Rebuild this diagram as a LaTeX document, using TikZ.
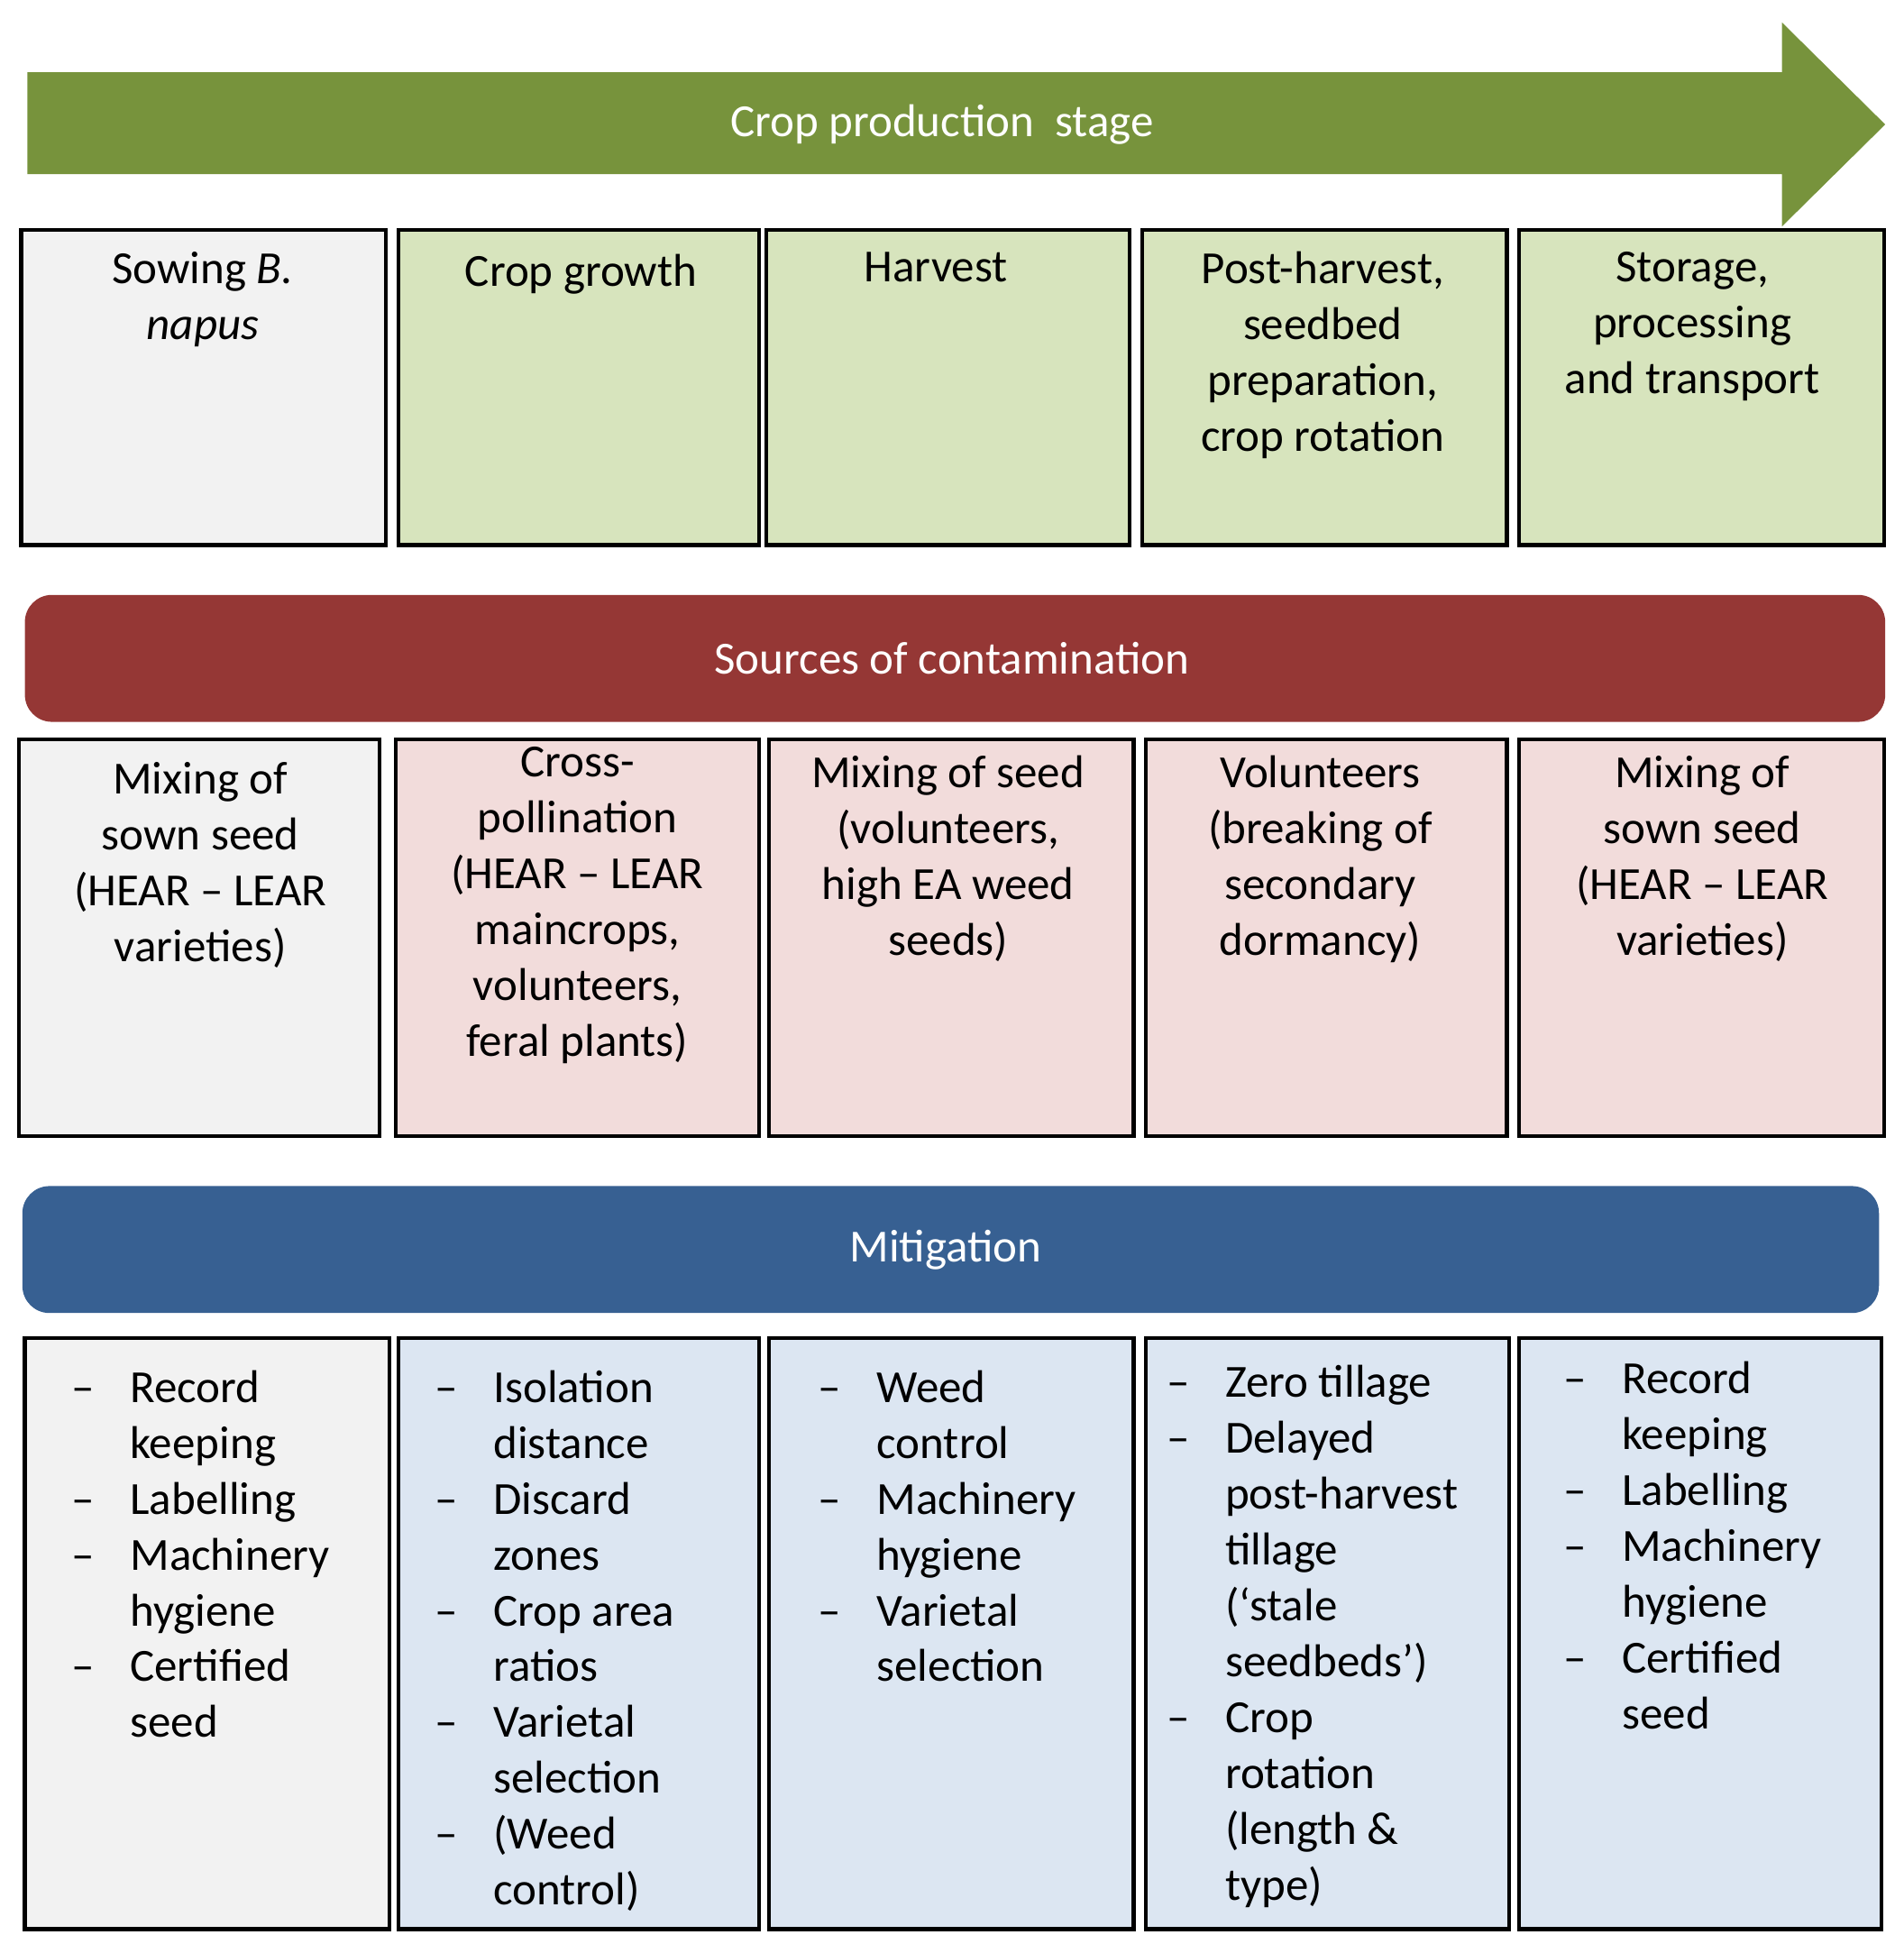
\documentclass[tikz,border=0pt]{standalone}
\usepackage{fontspec}
\setmainfont{Carlito}
\definecolor{grn}{HTML}{77933C}
\definecolor{gfill}{HTML}{D7E4BD}
\definecolor{red}{HTML}{953735}
\definecolor{rfill}{HTML}{F2DCDB}
\definecolor{blu}{HTML}{376092}
\definecolor{bfill}{HTML}{DCE6F2}
\definecolor{gry}{HTML}{F2F2F2}
\begin{document}
\begin{tikzpicture}[x=0.0138cm,y=-0.0138cm,
  box/.style={draw=black,line width=1.2pt},
  bar/.style={rounded corners=0.3cm,draw=none},
  bt/.style={font=\fontsize{14.5}{17.6}\selectfont,color=white},
  ct/.style={anchor=north,align=center,inner sep=0pt,font=\fontsize{14.5}{17.6}\selectfont},
  lt/.style={anchor=north west,align=left,inner sep=0pt,font=\fontsize{14.5}{17.6}\selectfont}]
\newcommand\lst[1]{\begin{tabular}{@{}p{0.65cm}@{}l@{}}#1\end{tabular}}
\useasboundingbox (0,0) rectangle (1530,1562);
% arrow
\fill[grn] (22,58) -- (1432,58) -- (1432,18) -- (1515,100) -- (1432,182) -- (1432,140) -- (22,140) -- cycle;
\node[bt] (stage) at (757,100) {Crop production\ \ stage};
% row 1
\draw[box,fill=gry] (17,185) rectangle (310,438);
\draw[box,fill=gfill] (320,185) rectangle (610,438);
\draw[box,fill=gfill] (616,185) rectangle (908,438);
\draw[box,fill=gfill] (918,185) rectangle (1211,438);
\draw[box,fill=gfill] (1221,185) rectangle (1514,438);
\node[ct] (a1) at (163,202) {Sowing \textit{B.}\\\textit{napus}};
\node[ct] (a2) at (467,204) {Crop growth};
\node[ct] (a3) at (752,202) {Harvest};
\node[ct] (a4) at (1063,202) {Post-harvest,\\seedbed\\preparation,\\crop rotation};
\node[ct] (a5) at (1360,202) {Storage,\\processing\\and transport};
% red bar
\fill[red,bar] (20,478) rectangle (1515,580);
\node[bt] (src) at (765,529) {Sources of contamination};
\draw[box,fill=gry] (15,594) rectangle (305,913);
\draw[box,fill=rfill] (318,594) rectangle (610,913);
\draw[box,fill=rfill] (618,594) rectangle (911,913);
\draw[box,fill=rfill] (921,594) rectangle (1211,913);
\draw[box,fill=rfill] (1221,594) rectangle (1514,913);
\node[ct] (b1) at (161,612) {Mixing of\\sown seed\\(HEAR -- LEAR\\varieties)};
\node[ct] (b2) at (464,600) {Cross-\\pollination\\(HEAR -- LEAR\\maincrops,\\volunteers,\\feral plants)};
\node[ct] (b3) at (762,607) {Mixing of seed\\(volunteers,\\high EA weed\\seeds)};
\node[ct] (b4) at (1061,607) {Volunteers\\(breaking of\\secondary\\dormancy)};
\node[ct] (b5) at (1368,607) {Mixing of\\sown seed\\(HEAR -- LEAR\\varieties)};
% blue bar
\fill[blu,bar] (18,953) rectangle (1510,1055);
\node[bt] (mit) at (760,1004) {Mitigation};
\draw[box,fill=gry] (20,1075) rectangle (313,1550);
\draw[box,fill=bfill] (320,1075) rectangle (610,1550);
\draw[box,fill=bfill] (618,1075) rectangle (911,1550);
\draw[box,fill=bfill] (921,1075) rectangle (1213,1550);
\draw[box,fill=bfill] (1221,1075) rectangle (1512,1550);
\node[lt] (c1) at (57,1095) {\lst{-- & Record\\ & keeping\\ -- & Labelling\\ -- & Machinery\\ & hygiene\\ -- & Certified\\ & seed}};
\node[lt] (c2) at (349,1095) {\lst{-- & Isolation\\ & distance\\ -- & Discard\\ & zones\\ -- & Crop area\\ & ratios\\ -- & Varietal\\ & selection\\ -- & (Weed\\ & control)}};
\node[lt] (c3) at (657,1095) {\lst{-- & Weed\\ & control\\ -- & Machinery\\ & hygiene\\ -- & Varietal\\ & selection}};
\node[lt] (c4) at (937,1091) {\lst{-- & Zero tillage\\ -- & Delayed\\ & post-harvest\\ & tillage\\ & (`stale\\ & seedbeds')\\ -- & Crop\\ & rotation\\ & (length \&\\ & type)}};
\node[lt] (c5) at (1256,1088) {\lst{-- & Record\\ & keeping\\ -- & Labelling\\ -- & Machinery\\ & hygiene\\ -- & Certified\\ & seed}};
\end{tikzpicture}
\end{document}
